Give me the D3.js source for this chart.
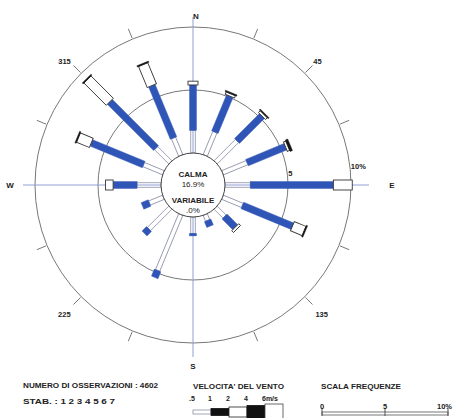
<!DOCTYPE html>
<html>
<head>
<meta charset="utf-8">
<script src="https://cdn.jsdelivr.net/npm/d3@7/dist/d3.min.js"></script>
<style>
  html, body { margin: 0; padding: 0; background: #fff; }
  svg { display: block; }
  text { font-family: "Liberation Sans", Arial, Helvetica, sans-serif; fill: #222; }
</style>
</head>
<body>
<svg id="rose" width="453" height="418"></svg>
<script>
// 16 wind sectors, clockwise from north
const directions = ["N","NNE","NE","ENE","E","ESE","SE","SSE","S","SSW","SW","WSW","W","WNW","NW","NNW"];

// Frequency (%) of each wind-speed class per sector
const speed05to1 = [1.8, 2.0, 2.4, 2.1, 2.0, 1.7, 1.0, 0.5, 1.3, 4.8, 2.4, 1.2, 1.9, 1.7, 1.6, 1.5];
const speed1to2  = [3.6, 3.1, 2.8, 3.3, 6.6, 4.3, 1.2, 0.5, 0.2, 0.6, 0.5, 0.6, 1.9, 4.5, 5.2, 4.5];
const speed2to4  = [0.3, 0.2, 0.2, 0.2, 1.5, 1.0, 0.2, 0.0, 0.0, 0.0, 0.0, 0.0, 0.6, 1.1, 2.5, 1.8];
const speed4to6  = [0.0, 0.1, 0.1, 0.2, 0.0, 0.1, 0.0, 0.0, 0.0, 0.0, 0.0, 0.0, 0.0, 0.1, 0.1, 0.1];
const speedOver6 = [0.0, 0.0, 0.0, 0.0, 0.0, 0.0, 0.0, 0.0, 0.0, 0.0, 0.0, 0.0, 0.0, 0.0, 0.0, 0.0];

const calmPct = 16.9;
const variablePct = 0;
const observations = 4602;
const stabilityClasses = [1, 2, 3, 4, 5, 6, 7];
const speedLabels = [".5", "1", "2", "4", "6m/s"];
const ringTicks = [5, 10];
const ringLabels = ["5", "10%"];
const bearingTicks = [45, 135, 225, 315];
const bearingLabels = ["45", "135", "225", "315"];
const scaleTicks = [0, 5, 10];
const scaleLabels = ["0", "5", "10%"];

const series = [speed05to1, speed1to2, speed2to4, speed4to6, speedOver6];

// drawing style for each speed class
const classStyle = [
  { w: 4.5, fill: "none",    stroke: "#8c90a6", sw: 0.8 },
  { w: 7,   fill: "#2f56b6", stroke: "#2f56b6", sw: 0.4 },
  { w: 10,  fill: "#fff",    stroke: "#333",    sw: 0.9 },
  { w: 12.5,fill: "#151515", stroke: "#151515", sw: 0.4 },
  { w: 15,  fill: "#fff",    stroke: "#333",    sw: 0.9 }
];
const legendStyle = [
  { h: 4,  fill: "#fff",  stroke: "#8c90a6" },
  { h: 7,  fill: "#111",  stroke: "#111" },
  { h: 10, fill: "#fff",  stroke: "#222" },
  { h: 13, fill: "#111",  stroke: "#111" },
  { h: 16, fill: "#fff",  stroke: "#444" }
];

const svg = d3.select("#rose");
const cx = 193, cy = 185;
const calmR = 32;
const r = d3.scaleLinear().domain([0, 10]).range([calmR, 158]);
const angle = d3.scaleLinear().domain([0, directions.length]).range([0, 360]);
const rad = a => (a - 90) * Math.PI / 180;
const polar = (a, rr) => [cx + rr * Math.cos(rad(a)), cy + rr * Math.sin(rad(a))];

const g = svg.append("g");

// frequency rings
g.selectAll("circle.ring").data(ringTicks).join("circle")
  .attr("class", "ring")
  .attr("cx", cx).attr("cy", cy).attr("r", d => r(d))
  .attr("fill", "none").attr("stroke", "#5e5e5e").attr("stroke-width", 0.85);

// sector ticks outside the outer ring
g.selectAll("line.tick").data(directions.map((d, i) => angle(i)).filter(a => a % 90 !== 0))
  .join("line").attr("class", "tick")
  .attr("x1", a => polar(a, r(10) + 1)[0]).attr("y1", a => polar(a, r(10) + 1)[1])
  .attr("x2", a => polar(a, r(10) + 11)[0]).attr("y2", a => polar(a, r(10) + 11)[1])
  .attr("stroke", "#555").attr("stroke-width", 0.8);

// cardinal axes
const axisLen = [168, 176, 172, 170];
g.selectAll("line.axis").data([0, 90, 180, 270]).join("line").attr("class", "axis")
  .attr("x1", a => polar(a, calmR)[0]).attr("y1", a => polar(a, calmR)[1])
  .attr("x2", (a, i) => polar(a, axisLen[i])[0]).attr("y2", (a, i) => polar(a, axisLen[i])[1])
  .attr("stroke", "#8fa0d4").attr("stroke-width", 1);

// stacked sector bars
directions.forEach((dir, i) => {
  let acc = 0;
  const segs = series.map((s, k) => {
    const a = acc; acc += s[i];
    return { k, a, b: acc };
  }).filter(s => s.b > s.a);
  g.append("g")
    .attr("transform", `translate(${cx},${cy}) rotate(${angle(i)})`)
    .selectAll("rect").data(segs).join("rect")
    .attr("x", d => -classStyle[d.k].w / 2)
    .attr("y", d => -r(d.b))
    .attr("width", d => classStyle[d.k].w)
    .attr("height", d => r(d.b) - r(d.a))
    .attr("fill", d => classStyle[d.k].fill)
    .attr("stroke", d => classStyle[d.k].stroke)
    .attr("stroke-width", d => classStyle[d.k].sw);
});

// calm circle
g.append("circle").attr("cx", cx).attr("cy", cy).attr("r", calmR)
  .attr("fill", "#fff").attr("stroke", "#444").attr("stroke-width", 1);

const centre = g.append("g").attr("font-size", 8).attr("font-weight", "bold").attr("text-anchor", "middle");
centre.append("text").attr("x", cx).attr("y", 177).text("CALMA");
centre.append("text").attr("x", cx).attr("y", 187).attr("font-weight", "normal").text(calmPct.toFixed(1) + "%");
centre.append("text").attr("x", cx).attr("y", 203).text("VARIABILE");
centre.append("text").attr("x", cx).attr("y", 213).attr("font-weight", "normal").text("." + variablePct + "%");

// ring value labels
g.selectAll("text.ringlab").data(ringTicks).join("text").attr("class", "ringlab")
  .attr("x", d => polar(83, r(d))[0] + 1)
  .attr("y", d => polar(83, r(d))[1] + 3)
  .attr("font-size", 7.5).attr("font-weight", "bold")
  .text((d, i) => ringLabels[i]);

// bearing labels
g.selectAll("text.bearing").data(bearingTicks).join("text").attr("class", "bearing")
  .attr("x", d => polar(d, d === 45 || d === 315 ? 176 : 182)[0] + (d === 315 ? -4 : 0))
  .attr("y", d => polar(d, d === 45 || d === 315 ? 176 : 182)[1] + 3)
  .attr("text-anchor", "middle").attr("font-size", 7.5).attr("font-weight", "bold")
  .text((d, i) => bearingLabels[i]);

// cardinal labels
const cardinals = [["N", 0, 169], ["E", 90, 199], ["S", 180, 181], ["W", 270, 183]];
g.selectAll("text.card").data(cardinals).join("text").attr("class", "card")
  .attr("x", d => polar(d[1], d[2])[0] + (d[0] === "N" ? 3 : 0))
  .attr("y", d => polar(d[1], d[2])[1] + 3)
  .attr("text-anchor", "middle").attr("font-size", 8).attr("font-weight", "bold")
  .text(d => d[0]);

// footer: observations and stability
const foot = svg.append("g").attr("font-size", 7.5).attr("font-weight", "bold");
foot.append("text").attr("x", 23).attr("y", 388)
  .attr("textLength", 135).attr("lengthAdjust", "spacingAndGlyphs")
  .text("NUMERO DI OSSERVAZIONI : " + observations);
foot.append("text").attr("x", 23).attr("y", 404)
  .attr("textLength", 92).attr("lengthAdjust", "spacingAndGlyphs")
  .text("STAB. : " + stabilityClasses.join(" "));
foot.append("text").attr("x", 193).attr("y", 389)
  .attr("textLength", 91).attr("lengthAdjust", "spacingAndGlyphs")
  .text("VELOCITA' DEL VENTO");
foot.append("text").attr("x", 321).attr("y", 389)
  .attr("textLength", 80).attr("lengthAdjust", "spacingAndGlyphs")
  .text("SCALA FREQUENZE");

// wind speed legend
const lx = d3.scaleLinear().domain([0, speedLabels.length]).range([193, 283]);
const ly = 412;
const leg = svg.append("g");
leg.selectAll("rect").data(speedLabels).join("rect")
  .attr("x", (d, i) => lx(i)).attr("width", (d, i) => lx(i + 1) - lx(i))
  .attr("y", (d, i) => ly - legendStyle[i].h / 2).attr("height", (d, i) => legendStyle[i].h)
  .attr("fill", (d, i) => legendStyle[i].fill)
  .attr("stroke", (d, i) => legendStyle[i].stroke).attr("stroke-width", 0.8);
leg.selectAll("text").data(speedLabels).join("text")
  .attr("x", (d, i) => i === speedLabels.length - 1 ? lx(i) - 3 : lx(i) - 1)
  .attr("y", 401)
  .attr("text-anchor", (d, i) => i === speedLabels.length - 1 ? "start" : "middle")
  .attr("font-size", 7).attr("font-weight", "bold")
  .text(d => d);

// frequency scale bar
const fx = d3.scaleLinear().domain([0, 10]).range([322, 448]);
const fs = svg.append("g");
fs.append("rect").attr("x", fx(0)).attr("y", 412).attr("width", fx(10) - fx(0)).attr("height", 3)
  .attr("fill", "#fff").attr("stroke", "#555").attr("stroke-width", 0.8);
fs.selectAll("line").data(scaleTicks).join("line")
  .attr("x1", d => fx(d)).attr("x2", d => fx(d)).attr("y1", 408).attr("y2", 416)
  .attr("stroke", "#444").attr("stroke-width", 0.9);
fs.selectAll("text").data(scaleTicks).join("text")
  .attr("x", d => d === 10 ? 452 : fx(d))
  .attr("y", 409)
  .attr("text-anchor", d => d === 10 ? "end" : "middle")
  .attr("font-size", 7.5).attr("font-weight", "bold")
  .text((d, i) => scaleLabels[i]);
</script>
</body>
</html>
